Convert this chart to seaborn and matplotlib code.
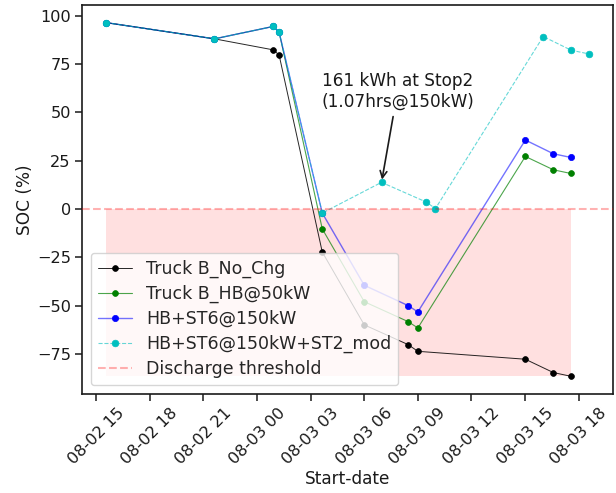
import matplotlib
matplotlib.use("Agg")
import matplotlib.pyplot as plt
import matplotlib.dates as mdates
import seaborn as sns
import pandas as pd

# ---- data ----
times_base = ["2020-08-02 15:33", "2020-08-02 21:37", "2020-08-03 00:54", "2020-08-03 01:14",
              "2020-08-03 03:39", "2020-08-03 06:00", "2020-08-03 08:27", "2020-08-03 09:00",
              "2020-08-03 15:01", "2020-08-03 16:35", "2020-08-03 17:33"]
times_mod = ["2020-08-02 15:33", "2020-08-02 21:37", "2020-08-03 00:54", "2020-08-03 01:14",
             "2020-08-03 03:39", "2020-08-03 06:58", "2020-08-03 09:28", "2020-08-03 09:59",
             "2020-08-03 16:01", "2020-08-03 17:35", "2020-08-03 18:34"]
soc_no_chg = [96.5, 88.1, 82.4, 79.8, -22.3, -60.0, -70.2, -73.7, -77.8, -84.7, -86.6]
soc_hb50 = [96.5, 88.1, 94.5, 91.6, -10.3, -48.0, -58.3, -61.6, 27.2, 20.3, 18.4]
soc_st6 = [96.5, 88.1, 94.5, 91.6, -2.1, -39.5, -50.0, -53.3, 35.7, 28.6, 26.7]
soc_st2mod = [96.5, 88.1, 94.5, 91.6, -2.1, 13.8, 3.6, 0.2, 89.3, 82.2, 80.3]
labels = ["Truck B_No_Chg", "Truck B_HB@50kW", "HB+ST6@150kW", "HB+ST6@150kW+ST2_mod"]
annot_text = "161 kWh at Stop2\n(1.07hrs@150kW)"
annot_point = ("2020-08-03 06:58", 13.8)
annot_text_pos = ("2020-08-03 07:52", 61.0)

tb = pd.to_datetime(times_base)
tm = pd.to_datetime(times_mod)

sns.set_theme(style="ticks")
plt.rcParams["font.family"] = ["DejaVu Sans"]
FS = 12.2
TFS = 11.6

fig, ax = plt.subplots(figsize=(6.16, 4.93), dpi=100)
fig.subplots_adjust(left=0.133, right=0.995, top=0.990, bottom=0.201)

series = [
    (tb, soc_no_chg, labels[0], dict(color=(0, 0, 0, 0.85), lw=0.7, ls="-", mfc="#000000", ms=4.2)),
    (tb, soc_hb50, labels[1], dict(color=(0, 0.5, 0, 0.7), lw=0.8, ls="-", mfc="#008000", ms=4.2)),
    (tb, soc_st6, labels[2], dict(color=(0, 0, 1, 0.55), lw=1.0, ls="-", mfc="#0000ff", ms=4.5)),
    (tm, soc_st2mod, labels[3], dict(color=(0, 0.75, 0.75, 0.6), lw=0.8, ls="--", mfc="#00bfbf", ms=4.8)),
]
for x, y, lab, st in series:
    df = pd.DataFrame({"t": x, "soc": y})
    sns.lineplot(data=df, x="t", y="soc", ax=ax, label=lab, sort=False,
                 color=st["color"], linewidth=st["lw"], linestyle=st["ls"],
                 marker="o", markersize=st["ms"], markerfacecolor=st["mfc"],
                 markeredgecolor=st["mfc"], markeredgewidth=0.5)

ax.fill_between([tb[0], tb[-1]], min(soc_no_chg), 0, color="red", alpha=0.12, lw=0, zorder=0)
ax.axhline(0, color="red", alpha=0.3, ls="--", lw=1.5, label="Discharge threshold", zorder=5)

ax.annotate(annot_text, xy=(pd.Timestamp(annot_point[0]), annot_point[1]),
            xytext=(pd.Timestamp(annot_text_pos[0]), annot_text_pos[1]),
            ha="center", va="center", fontsize=FS, color="#1a1a1a",
            arrowprops=dict(arrowstyle="->", color="k", lw=1.2, shrinkA=2, shrinkB=2))

ax.xaxis.set_major_locator(mdates.HourLocator(byhour=range(0, 24, 3)))
ax.xaxis.set_major_formatter(mdates.DateFormatter("%m-%d %H"))
plt.setp(ax.get_xticklabels(), rotation=45, ha="center")
ax.tick_params(labelsize=TFS, length=5, width=1.1, colors="#1a1a1a", pad=3)
ax.set_xlabel("Start-date", fontsize=FS, color="#1a1a1a", labelpad=2)
ax.set_ylabel("SOC (%)", fontsize=FS, color="#1a1a1a", labelpad=2)
for s in ax.spines.values():
    s.set_visible(True)
    s.set_color("#1a1a1a")
    s.set_linewidth(1.2)

ax.legend(loc="lower left", fontsize=12.5, framealpha=0.8, edgecolor="#cccccc",
          fancybox=True, labelspacing=0.4)

fig.savefig("out.png", dpi=100)
